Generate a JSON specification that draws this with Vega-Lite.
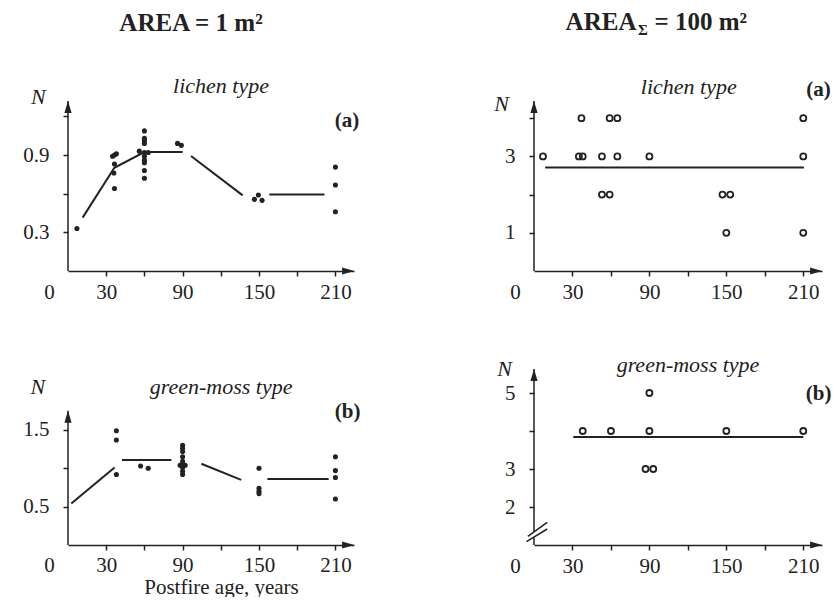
{
  "$schema": "https://vega.github.io/schema/vega-lite/v6.json",
  "background": "white",
  "padding": {"left": 22, "top": 10, "right": 0, "bottom": 0},
  "config": {
    "view": {"stroke": null},
    "font": "Liberation Serif",
    "axis": {
      "grid": false, "title": null, "labelFlush": false,
      "labelFont": "Liberation Serif", "labelFontSize": 21, "labelColor": "#222",
      "tickColor": "#222", "tickSize": 5, "tickWidth": 1.5,
      "domainColor": "#222", "domainWidth": 1.5
    },
    "axisY": {"domain": false, "labelPadding": 14},
    "axisX": {"labelPadding": 5},
    "line": {"color": "#222", "strokeWidth": 2},
    "rule": {"color": "#222", "strokeWidth": 1.5},
    "text": {"color": "#222", "font": "Liberation Serif"}
  },
  "datasets": {
    "tl_pts": [
      {"age": 7, "n": 0.33}, {"age": 35, "n": 0.89}, {"age": 36.5, "n": 0.9}, {"age": 38, "n": 0.91},
      {"age": 36.5, "n": 0.83}, {"age": 36, "n": 0.76}, {"age": 36.5, "n": 0.64},
      {"age": 56, "n": 0.93}, {"age": 60, "n": 1.087}, {"age": 60, "n": 1.03}, {"age": 60, "n": 1.01},
      {"age": 60, "n": 0.99}, {"age": 60, "n": 0.92}, {"age": 63, "n": 0.92}, {"age": 60, "n": 0.89},
      {"age": 60, "n": 0.86}, {"age": 60, "n": 0.84}, {"age": 60, "n": 0.78}, {"age": 60, "n": 0.72},
      {"age": 86, "n": 0.99}, {"age": 89, "n": 0.975},
      {"age": 146.4, "n": 0.556}, {"age": 149.5, "n": 0.59}, {"age": 152.4, "n": 0.548},
      {"age": 210, "n": 0.806}, {"age": 210, "n": 0.667}, {"age": 210, "n": 0.46}
    ],
    "tl_line": [
      {"seg": "a", "age": 11.5, "n": 0.414}, {"seg": "a", "age": 36.4, "n": 0.801},
      {"seg": "a", "age": 60, "n": 0.923}, {"seg": "a", "age": 90, "n": 0.923},
      {"seg": "b", "age": 96.6, "n": 0.892}, {"seg": "b", "age": 137.2, "n": 0.587},
      {"seg": "c", "age": 158.1, "n": 0.593}, {"seg": "c", "age": 201.4, "n": 0.593}
    ],
    "tr_pts": [
      {"age": 7, "n": 3}, {"age": 35, "n": 3}, {"age": 38, "n": 3}, {"age": 37, "n": 4},
      {"age": 53, "n": 3}, {"age": 53, "n": 2}, {"age": 59, "n": 2}, {"age": 59, "n": 4},
      {"age": 65, "n": 4}, {"age": 65, "n": 3}, {"age": 90, "n": 3},
      {"age": 147, "n": 2}, {"age": 153, "n": 2}, {"age": 150, "n": 1},
      {"age": 210, "n": 4}, {"age": 210, "n": 3}, {"age": 210, "n": 1}
    ],
    "tr_line": [{"seg": "a", "age": 8.7, "n": 2.71}, {"seg": "a", "age": 210.5, "n": 2.71}],
    "bl_pts": [
      {"age": 38, "n": 1.49}, {"age": 38, "n": 1.37}, {"age": 38, "n": 0.92},
      {"age": 57, "n": 1.03}, {"age": 63, "n": 1.0},
      {"age": 90, "n": 1.3}, {"age": 90, "n": 1.26}, {"age": 90, "n": 1.22}, {"age": 90, "n": 1.15},
      {"age": 90, "n": 1.09}, {"age": 90, "n": 1.06}, {"age": 88, "n": 1.04}, {"age": 92, "n": 1.04},
      {"age": 90, "n": 1.01}, {"age": 90, "n": 0.96}, {"age": 90, "n": 0.92},
      {"age": 150, "n": 1.0}, {"age": 150, "n": 0.74}, {"age": 150, "n": 0.7}, {"age": 150, "n": 0.67},
      {"age": 210, "n": 1.15}, {"age": 210, "n": 0.97}, {"age": 210, "n": 0.88}, {"age": 210, "n": 0.6}
    ],
    "bl_line": [
      {"seg": "a", "age": 2.6, "n": 0.54}, {"seg": "a", "age": 36.6, "n": 1.01},
      {"seg": "b", "age": 42.4, "n": 1.11}, {"seg": "b", "age": 81.2, "n": 1.11},
      {"seg": "c", "age": 104.7, "n": 1.06}, {"seg": "c", "age": 136, "n": 0.85},
      {"seg": "d", "age": 156.6, "n": 0.86}, {"seg": "d", "age": 204.7, "n": 0.86}
    ],
    "br_pts": [
      {"age": 38, "n": 4}, {"age": 60, "n": 4}, {"age": 90, "n": 4}, {"age": 150, "n": 4},
      {"age": 210, "n": 4}, {"age": 90, "n": 5}, {"age": 87, "n": 3}, {"age": 93, "n": 3}
    ],
    "br_line": [{"seg": "a", "age": 30.6, "n": 3.84}, {"seg": "a", "age": 210, "n": 3.84}],
    "one": [{}]
  },
  "columns": 2,
  "bounds": "flush",
  "spacing": {"row": 98, "column": 180},
  "concat": [
    {
      "width": 286, "height": 170,
      "layer": [
        {
          "data": {"name": "tl_pts"},
          "mark": {"type": "circle", "size": 26, "color": "#222", "opacity": 1},
          "encoding": {
            "x": {"field": "age", "type": "quantitative",
              "scale": {"domain": [0, 224.6], "nice": false},
              "axis": {"values": [0, 30, 60, 90, 120, 150, 180, 210],
                "labelExpr": "datum.value == 0 || datum.value % 60 == 30 ? datum.label : ''",
                "labelOffset": {"condition": {"test": "datum.value === 0", "value": -19}, "value": 0},
                "tickOpacity": {"condition": {"test": "datum.value === 0", "value": 0}, "value": 1}}},
            "y": {"field": "n", "type": "quantitative",
              "scale": {"domain": [0, 1.319], "nice": false},
              "axis": {"values": [0.3, 0.6, 0.9, 1.2], "format": ".1f",
                "labelExpr": "datum.value == 0.3 || datum.value == 0.9 ? datum.label : ''"}}
          }
        },
        {
          "data": {"name": "tl_line"},
          "mark": {"type": "line"},
          "encoding": {
            "x": {"field": "age", "type": "quantitative"},
            "y": {"field": "n", "type": "quantitative"},
            "detail": {"field": "seg"}
          }
        },
        {"data": {"name": "one"}, "mark": {"type": "rule"},
         "encoding": {"x": {"datum": 0}, "y": {"datum": 0}, "y2": {"datum": 1.319}}},
        {"data": {"name": "one"}, "mark": {"type": "point", "shape": "M0,-1L0.6,1L-0.6,1Z", "filled": true, "size": 144, "color": "#222", "opacity": 1},
         "encoding": {"x": {"datum": 0}, "y": {"datum": 1.272}}},
        {"data": {"name": "one"}, "mark": {"type": "point", "shape": "M1,0L-1,-0.6L-1,0.6Z", "filled": true, "size": 144, "color": "#222", "opacity": 1},
         "encoding": {"x": {"datum": 220}, "y": {"datum": 0}}},
        {"data": {"name": "one"}, "mark": {"type": "text", "fontSize": 25, "fontWeight": "bold", "align": "center", "baseline": "alphabetic"},
         "encoding": {"x": {"datum": 96.6}, "y": {"datum": 1.862}, "text": {"value": "AREA = 1 m²"}}},
        {"data": {"name": "one"}, "mark": {"type": "text", "fontSize": 22, "fontStyle": "italic", "align": "center", "baseline": "alphabetic"},
         "encoding": {"x": {"datum": 120.2}, "y": {"datum": 1.381}, "text": {"value": "lichen type"}}},
        {"data": {"name": "one"}, "mark": {"type": "text", "fontSize": 21, "fontWeight": "bold", "align": "center", "baseline": "middle"},
         "encoding": {"x": {"datum": 219.2}, "y": {"datum": 1.164}, "text": {"value": "(a)"}}},
        {"data": {"name": "one"}, "mark": {"type": "text", "fontSize": 22, "fontStyle": "italic", "align": "center", "baseline": "middle"},
         "encoding": {"x": {"datum": -23.2}, "y": {"datum": 1.35}, "text": {"value": "N"}}}
      ]
    },
    {
      "width": 288, "height": 170,
      "layer": [
        {
          "data": {"name": "tr_pts"},
          "mark": {"type": "point", "shape": "circle", "filled": false, "size": 36, "strokeWidth": 1.8, "color": "#222", "opacity": 1},
          "encoding": {
            "x": {"field": "age", "type": "quantitative",
              "scale": {"domain": [0, 224.6], "nice": false},
              "axis": {"values": [0, 30, 60, 90, 120, 150, 180, 210],
                "labelExpr": "datum.value == 0 || datum.value % 60 == 30 ? datum.label : ''",
                "labelOffset": {"condition": {"test": "datum.value === 0", "value": -19}, "value": 0},
                "tickOpacity": {"condition": {"test": "datum.value === 0", "value": 0}, "value": 1}}},
            "y": {"field": "n", "type": "quantitative",
              "scale": {"domain": [0, 4.45], "nice": false},
              "axis": {"values": [1, 2, 3, 4],
                "labelExpr": "datum.value == 1 || datum.value == 3 ? datum.label : ''"}}
          }
        },
        {
          "data": {"name": "tr_line"},
          "mark": {"type": "line"},
          "encoding": {
            "x": {"field": "age", "type": "quantitative"},
            "y": {"field": "n", "type": "quantitative"},
            "detail": {"field": "seg"}
          }
        },
        {"data": {"name": "one"}, "mark": {"type": "rule"},
         "encoding": {"x": {"datum": 0}, "y": {"datum": 0}, "y2": {"datum": 4.45}}},
        {"data": {"name": "one"}, "mark": {"type": "point", "shape": "M0,-1L0.6,1L-0.6,1Z", "filled": true, "size": 144, "color": "#222", "opacity": 1},
         "encoding": {"x": {"datum": 0}, "y": {"datum": 4.293}}},
        {"data": {"name": "one"}, "mark": {"type": "point", "shape": "M1,0L-1,-0.6L-1,0.6Z", "filled": true, "size": 144, "color": "#222", "opacity": 1},
         "encoding": {"x": {"datum": 220}, "y": {"datum": 0}}},
        {"data": {"name": "one"}, "mark": {"type": "text", "fontSize": 25, "fontWeight": "bold", "align": "right", "baseline": "alphabetic"},
         "encoding": {"x": {"datum": 79.9}, "y": {"datum": 6.296}, "text": {"value": "AREA"}}},
        {"data": {"name": "one"}, "mark": {"type": "text", "fontSize": 15, "fontWeight": "bold", "align": "left", "baseline": "alphabetic"},
         "encoding": {"x": {"datum": 81.1}, "y": {"datum": 6.178}, "text": {"value": "Σ"}}},
        {"data": {"name": "one"}, "mark": {"type": "text", "fontSize": 25, "fontWeight": "bold", "align": "left", "baseline": "alphabetic"},
         "encoding": {"x": {"datum": 94.0}, "y": {"datum": 6.296}, "text": {"value": "= 100 m²"}}},
        {"data": {"name": "one"}, "mark": {"type": "text", "fontSize": 22, "fontStyle": "italic", "align": "center", "baseline": "alphabetic"},
         "encoding": {"x": {"datum": 120.7}, "y": {"datum": 4.626}, "text": {"value": "lichen type"}}},
        {"data": {"name": "one"}, "mark": {"type": "text", "fontSize": 21, "fontWeight": "bold", "align": "center", "baseline": "middle"},
         "encoding": {"x": {"datum": 221.9}, "y": {"datum": 4.738}, "text": {"value": "(a)"}}},
        {"data": {"name": "one"}, "mark": {"type": "text", "fontSize": 22, "fontStyle": "italic", "align": "center", "baseline": "middle"},
         "encoding": {"x": {"datum": -25.3}, "y": {"datum": 4.372}, "text": {"value": "N"}}}
      ]
    },
    {
      "width": 286, "height": 176,
      "layer": [
        {
          "data": {"name": "bl_pts"},
          "mark": {"type": "circle", "size": 26, "color": "#222", "opacity": 1},
          "encoding": {
            "x": {"field": "age", "type": "quantitative",
              "scale": {"domain": [0, 224.6], "nice": false},
              "axis": {"values": [0, 30, 60, 90, 120, 150, 180, 210], "labelPadding": 4,
                "labelExpr": "datum.value == 0 || datum.value % 60 == 30 ? datum.label : ''",
                "labelOffset": {"condition": {"test": "datum.value === 0", "value": -19}, "value": 0},
                "tickOpacity": {"condition": {"test": "datum.value === 0", "value": 0}, "value": 1},
                "title": "Postfire age, years", "titleFont": "Liberation Serif", "titleFontSize": 21,
                "titleFontWeight": "normal", "titleColor": "#222", "titleX": 153, "titleY": 48,
                "titleBaseline": "alphabetic", "titleAlign": "center"}},
            "y": {"field": "n", "type": "quantitative",
              "scale": {"domain": [0, 2.295], "nice": false},
              "axis": {"values": [0.5, 1.0, 1.5], "format": ".1f",
                "labelExpr": "datum.value == 0.5 || datum.value == 1.5 ? datum.label : ''"}}
          }
        },
        {
          "data": {"name": "bl_line"},
          "mark": {"type": "line"},
          "encoding": {
            "x": {"field": "age", "type": "quantitative"},
            "y": {"field": "n", "type": "quantitative"},
            "detail": {"field": "seg"}
          }
        },
        {"data": {"name": "one"}, "mark": {"type": "rule"},
         "encoding": {"x": {"datum": 0}, "y": {"datum": 0}, "y2": {"datum": 1.75}}},
        {"data": {"name": "one"}, "mark": {"type": "point", "shape": "M0,-1L0.6,1L-0.6,1Z", "filled": true, "size": 144, "color": "#222", "opacity": 1},
         "encoding": {"x": {"datum": 0}, "y": {"datum": 1.673}}},
        {"data": {"name": "one"}, "mark": {"type": "point", "shape": "M1,0L-1,-0.6L-1,0.6Z", "filled": true, "size": 144, "color": "#222", "opacity": 1},
         "encoding": {"x": {"datum": 220}, "y": {"datum": 0}}},
        {"data": {"name": "one"}, "mark": {"type": "text", "fontSize": 22, "fontStyle": "italic", "align": "center", "baseline": "alphabetic"},
         "encoding": {"x": {"datum": 120.2}, "y": {"datum": 1.969}, "text": {"value": "green-moss type"}}},
        {"data": {"name": "one"}, "mark": {"type": "text", "fontSize": 21, "fontWeight": "bold", "align": "center", "baseline": "middle"},
         "encoding": {"x": {"datum": 219.6}, "y": {"datum": 1.734}, "text": {"value": "(b)"}}},
        {"data": {"name": "one"}, "mark": {"type": "text", "fontSize": 22, "fontStyle": "italic", "align": "center", "baseline": "middle"},
         "encoding": {"x": {"datum": -23.6}, "y": {"datum": 2.06}, "text": {"value": "N"}}}
      ]
    },
    {
      "width": 288, "height": 176,
      "layer": [
        {
          "data": {"name": "br_pts"},
          "mark": {"type": "point", "shape": "circle", "filled": false, "size": 36, "strokeWidth": 1.8, "color": "#222", "opacity": 1},
          "encoding": {
            "x": {"field": "age", "type": "quantitative",
              "scale": {"domain": [0, 224.6], "nice": false},
              "axis": {"values": [0, 30, 60, 90, 120, 150, 180, 210],
                "labelExpr": "datum.value == 0 || datum.value % 60 == 30 ? datum.label : ''",
                "labelOffset": {"condition": {"test": "datum.value === 0", "value": -19}, "value": 0},
                "tickOpacity": {"condition": {"test": "datum.value === 0", "value": 0}, "value": 1}}},
            "y": {"field": "n", "type": "quantitative",
              "scale": {"domain": [1, 5.632], "nice": false, "zero": false},
              "axis": {"values": [2, 3, 4, 5],
                "labelExpr": "datum.value == 4 ? '' : datum.label"}}
          }
        },
        {
          "data": {"name": "br_line"},
          "mark": {"type": "line"},
          "encoding": {
            "x": {"field": "age", "type": "quantitative"},
            "y": {"field": "n", "type": "quantitative"},
            "detail": {"field": "seg"}
          }
        },
        {"data": {"name": "one"}, "mark": {"type": "rule"},
         "encoding": {"x": {"datum": 0}, "y": {"datum": 1.35}, "y2": {"datum": 5.632}}},
        {"data": {"name": "one"}, "mark": {"type": "rule"},
         "encoding": {"x": {"datum": 0}, "y": {"datum": 1}, "y2": {"datum": 1.2}}},
        {"data": {"name": "one"}, "mark": {"type": "rule"},
         "encoding": {"x": {"datum": -5.85}, "y": {"datum": 1.087}, "x2": {"datum": 10.3}, "y2": {"datum": 1.421}}},
        {"data": {"name": "one"}, "mark": {"type": "rule"},
         "encoding": {"x": {"datum": -4.8}, "y": {"datum": 1.229}, "x2": {"datum": 10.3}, "y2": {"datum": 1.597}}},
        {"data": {"name": "one"}, "mark": {"type": "point", "shape": "M0,-1L0.6,1L-0.6,1Z", "filled": true, "size": 144, "color": "#222", "opacity": 1},
         "encoding": {"x": {"datum": 0}, "y": {"datum": 5.474}}},
        {"data": {"name": "one"}, "mark": {"type": "point", "shape": "M1,0L-1,-0.6L-1,0.6Z", "filled": true, "size": 144, "color": "#222", "opacity": 1},
         "encoding": {"x": {"datum": 220}, "y": {"datum": 1}}},
        {"data": {"name": "one"}, "mark": {"type": "text", "fontSize": 22, "fontStyle": "italic", "align": "center", "baseline": "alphabetic"},
         "encoding": {"x": {"datum": 120.1}, "y": {"datum": 5.553}, "text": {"value": "green-moss type"}}},
        {"data": {"name": "one"}, "mark": {"type": "text", "fontSize": 21, "fontWeight": "bold", "align": "center", "baseline": "middle"},
         "encoding": {"x": {"datum": 221.9}, "y": {"datum": 4.974}, "text": {"value": "(b)"}}},
        {"data": {"name": "one"}, "mark": {"type": "text", "fontSize": 22, "fontStyle": "italic", "align": "center", "baseline": "middle"},
         "encoding": {"x": {"datum": -23.0}, "y": {"datum": 5.632}, "text": {"value": "N"}}}
      ]
    }
  ]
}
